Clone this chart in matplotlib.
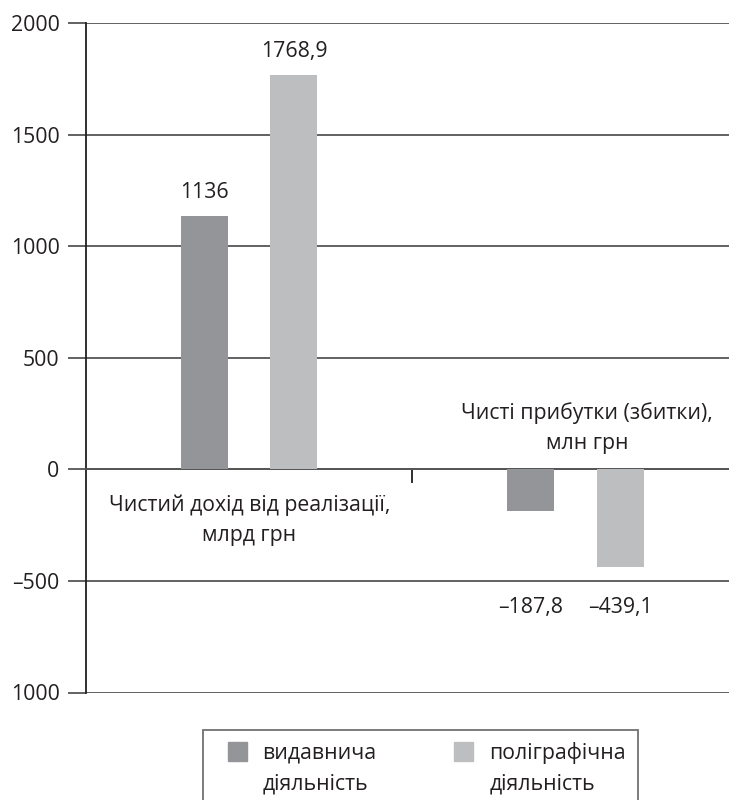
import matplotlib.pyplot as plt
from matplotlib.patches import Patch, Rectangle
from matplotlib.legend_handler import HandlerPatch

plt.rcParams["font.family"] = ["Open Sans", "DejaVu Sans"]

# data
groups = ["Чистий дохід від реалізації,\nмлрд грн", "Чисті прибутки (збитки),\nмлн грн"]
series = ["видавнича\nдіяльність", "поліграфічна\nдіяльність"]
publishing = [1136, -187.8]
printing = [1768.9, -439.1]
value_text = [["1136", "–187,8"], ["1768,9", "–439,1"]]
y_ticks = [-1000, -500, 0, 500, 1000, 1500, 2000]
y_tick_labels = ["1000", "–500", "0", "500", "1000", "1500", "2000"]

colors = ["#939598", "#bcbec0"]
grid_color = "#555555"
text_color = "#231f20"
fs = 15.3


def top_square(legend, orig_handle, xdescent, ydescent, width, height, fontsize):
    # square sits level with the first line of the two-line label
    size = 0.89 * fontsize
    return Rectangle((-xdescent + width - size, -ydescent + height - size + 5),
                     size, size)


def main():
    fig = plt.figure(figsize=(7.29, 8.0), dpi=100)
    ax = fig.add_axes([86 / 729, 1 - 692.5 / 800, 1 - 86 / 729, (692.5 - 23) / 800])

    x = [0, 1]
    width = 0.144
    offset = 0.137
    for i, vals in enumerate([publishing, printing]):
        xs = [xi + (2 * i - 1) * offset for xi in x]
        ax.bar(xs, vals, width=width, color=colors[i], zorder=3)
        for xv, v, t in zip(xs, vals, value_text[i]):
            if v > 0:
                ax.annotate(t, (xv, v), xytext=(0, 9), textcoords="offset points",
                            ha="center", va="bottom", fontsize=fs, color=text_color)
            else:
                ax.text(xv, -620, t, ha="center", va="center", fontsize=fs,
                        color=text_color)

    # category captions
    ax.text(x[0], -229, groups[0], ha="center", va="center", fontsize=fs,
            color=text_color, linespacing=1.59)
    ax.text(x[1] + 0.035, 184, groups[1], ha="center", va="center", fontsize=fs,
            color=text_color, linespacing=1.59)

    ax.set_ylim(-1000, 2000)
    ax.set_xlim(-0.5, 1.47)
    ax.set_yticks(y_ticks)
    ax.set_yticklabels(y_tick_labels, fontsize=fs, color=text_color)
    ax.tick_params(axis="y", length=13, width=1.3, color=grid_color, pad=6)
    ax.grid(axis="y", color=grid_color, linewidth=1.3, zorder=1)

    # single tick between the groups on the zero line
    ax.spines["bottom"].set_position(("data", 0))
    ax.spines["bottom"].set_color(grid_color)
    ax.spines["bottom"].set_linewidth(1.3)
    ax.set_xticks([0.5])
    ax.set_xticklabels([""])
    ax.tick_params(axis="x", length=10, width=1.3, color=text_color, direction="out")

    ax.spines["top"].set_visible(False)
    ax.spines["right"].set_visible(False)
    ax.spines["left"].set_color(text_color)
    ax.spines["left"].set_linewidth(1.3)

    handles = [Patch(color=c, label=s) for c, s in zip(colors, series)]
    leg = fig.legend(handles=handles, loc="upper left",
                     bbox_to_anchor=(203 / 729, 1 - 730 / 800), ncol=2,
                     frameon=True, fancybox=False, fontsize=fs,
                     handlelength=1.5, handleheight=2.6, handletextpad=0.75,
                     columnspacing=3.05, borderpad=0.55, borderaxespad=0,
                     handler_map={Patch: HandlerPatch(patch_func=top_square)})
    leg.get_frame().set_edgecolor("#4d4d4d")
    leg.get_frame().set_linewidth(1.3)
    for t in leg.get_texts():
        t.set_color(text_color)
        t.set_linespacing(1.64)

    fig.savefig("out.png", dpi=100)


if __name__ == "__main__":
    main()
